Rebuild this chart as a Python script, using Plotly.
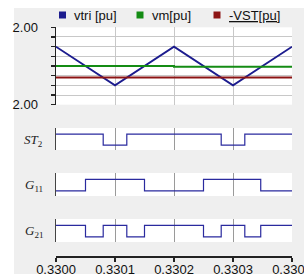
import plotly.graph_objects as go

# ---- data ----
t_tri = [0.3300, 0.3301, 0.3302, 0.3303, 0.3304]
vtri = [1.0, -1.0, 1.0, -1.0, 1.0]
t_vm = [0.3300, 0.3302, 0.3302, 0.3304]
vm = [0.0, 0.0, -0.04, -0.04]
t_vst = [0.3300, 0.3304]
neg_vst = [-0.6, -0.6]

t_st2 = [0.3300, 0.33008, 0.33012, 0.33028, 0.33032, 0.3304]
st2 = [1, 0, 1, 0, 1, 1]
t_g11 = [0.3300, 0.33005, 0.33015, 0.33025, 0.330347, 0.3304]
g11 = [0, 1, 0, 1, 0, 0]
t_g21 = [0.3300, 0.33005, 0.33008, 0.33012, 0.33015, 0.33025, 0.33028, 0.33032, 0.330347, 0.3304]
g21 = [1, 0, 1, 0, 1, 0, 1, 0, 1, 1]

x_ticks = [0.3300, 0.3301, 0.3302, 0.3303, 0.3304]
x_ticktext = ["0.3300", "0.3301", "0.3302", "0.3303", "0.3304"]
y_ticks = [-2, -1.5, -1, -0.5, 0, 0.5, 1, 1.5, 2]
y_ticktext = ["2.00", "", "", "", "", "", "", "", "2.00"]
legend_names = ["vtri [pu]", "vm[pu]", "<span style='text-decoration:underline'>-VST[pu]</span>"]
panel_labels = ["<i>ST</i><sub>2</sub>", "<i>G</i><sub>11</sub>", "<i>G</i><sub>21</sub>"]

# ---- style ----
W, H = 304, 277
PLOT_L, PLOT_R, PLOT_T, PLOT_B = 56, 292, 27, 256  # pixels
L, R, T, B = PLOT_L, W - PLOT_R, PLOT_T, H - PLOT_B
PW, PH = W - L - R, H - T - B
navy = "#1c1c8e"
green = "#148c14"
red = "#8c1414"
dig = "#2a2a9e"
font = "Liberation Sans, Arial, sans-serif"

def py(p):  # pixel y -> paper
    return (PLOT_B - p) / PH

def px(p):  # pixel x -> paper
    return (p - PLOT_L) / PW

fig = go.Figure()
fig.add_trace(go.Scatter(x=t_tri, y=vtri, mode="lines", line=dict(color=navy, width=1.8),
                         xaxis="x", yaxis="y", showlegend=False, hoverinfo="skip"))
fig.add_trace(go.Scatter(x=t_vm, y=vm, mode="lines", line=dict(color=green, width=2),
                         xaxis="x", yaxis="y", showlegend=False, hoverinfo="skip"))
fig.add_trace(go.Scatter(x=t_vst, y=neg_vst, mode="lines", line=dict(color=red, width=2),
                         xaxis="x", yaxis="y", showlegend=False, hoverinfo="skip"))

for i, (tt, vv) in enumerate([(t_st2, st2), (t_g11, g11), (t_g21, g21)]):
    fig.add_trace(go.Scatter(x=tt, y=vv, mode="lines", line=dict(color=dig, width=1.2, shape="hv"),
                             xaxis="x%d" % (i + 2), yaxis="y%d" % (i + 2), showlegend=False,
                             hoverinfo="skip"))
# dummy trace for bottom axis
fig.add_trace(go.Scatter(x=[x_ticks[0], x_ticks[-1]], y=[None, None], mode="lines",
                         xaxis="x5", yaxis="y5", showlegend=False, hoverinfo="skip"))

xr = [x_ticks[0], x_ticks[-1]]
common_x = dict(range=xr, tickvals=x_ticks, showticklabels=False, ticks="", zeroline=False,
                showline=False, automargin=False)
layout = dict(
    template="none",
    width=W, height=H,
    margin=dict(l=L, r=R, t=T, b=B, pad=0, autoexpand=False),
    paper_bgcolor="#efefef", plot_bgcolor="white",
    font=dict(family=font, size=13, color="#111"),
    showlegend=False,
    xaxis=dict(common_x, anchor="y", showgrid=True, gridcolor="#c8c8c8", gridwidth=1),
    yaxis=dict(domain=[py(104.7), py(27.3)], range=[-2, 2], anchor="x", automargin=False,
               tickvals=y_ticks, ticktext=y_ticktext, ticks="outside", ticklen=4,
               tickcolor="#222", tickwidth=1.2, showline=True, linecolor="#222", linewidth=1.5,
               showgrid=True, gridcolor="#c8c8c8", gridwidth=1, zeroline=False,
               ticklabelstandoff=10, tickfont=dict(size=13, color="#111")),
    xaxis5=dict(range=xr, tickvals=x_ticks, ticktext=x_ticktext, anchor="y5", automargin=False,
                ticks="outside", ticklen=4, tickcolor="#222", tickwidth=1.2,
                showline=True, linecolor="#222", linewidth=1.5, showgrid=False, zeroline=False,
                ticklabeloverflow="allow", ticklabelstandoff=-3,
                tickfont=dict(size=13, color="#111")),
    yaxis5=dict(domain=[0, 0.001], anchor="x5", visible=False, range=[0, 1], automargin=False),
)
panels = [(128, 150), (173, 196), (219, 242)]
for i, (top, bot) in enumerate(panels):
    n = i + 2
    layout["xaxis%d" % n] = dict(common_x, anchor="y%d" % n, showgrid=True, gridcolor="#9a9a9a",
                                 gridwidth=1)
    layout["yaxis%d" % n] = dict(domain=[py(bot), py(top)], range=[-0.45, 1.55], anchor="x%d" % n,
                                 showline=True, linecolor="#444", linewidth=1.5, ticks="",
                                 showticklabels=False, showgrid=False, zeroline=False,
                                 automargin=False)
fig.update_layout(**layout)

# white strips outside the grey panel
for x0, y0, x1, y1 in [(0, 0, 14, 277), (0, 0, 304, 8), (0, 274, 304, 277)]:
    fig.add_shape(type="rect", xref="paper", yref="paper", layer="below",
                  x0=px(x0), x1=px(x1), y0=py(y1), y1=py(y0),
                  fillcolor="white", line=dict(width=0))

# legend (squares + labels)
for name, col, sx in zip(legend_names, [navy, green, red], [62.5, 140, 217]):
    fig.add_shape(type="rect", xref="paper", yref="paper",
                  x0=px(sx - 3.5), x1=px(sx + 3.5), y0=py(18.5), y1=py(11.5),
                  fillcolor=col, line=dict(width=0))
    fig.add_annotation(text=name, xref="paper", yref="paper", x=px(sx + 9.5), y=py(15),
                       xanchor="left", yanchor="middle", showarrow=False,
                       font=dict(family=font, size=13, color="#111"))

for lab, (top, bot) in zip(panel_labels, panels):
    fig.add_annotation(text=lab, xref="paper", yref="paper", x=px(45), y=py((top + bot) / 2 + 1),
                       xanchor="right", yanchor="middle", showarrow=False,
                       font=dict(family="Liberation Serif, Times New Roman, serif",
                                 size=13, color="#222"))

fig.write_html("out.html", config={"displayModeBar": False, "staticPlot": True},
               post_script="document.body.style.margin='0';"
                           "document.documentElement.style.overflow='hidden';")
